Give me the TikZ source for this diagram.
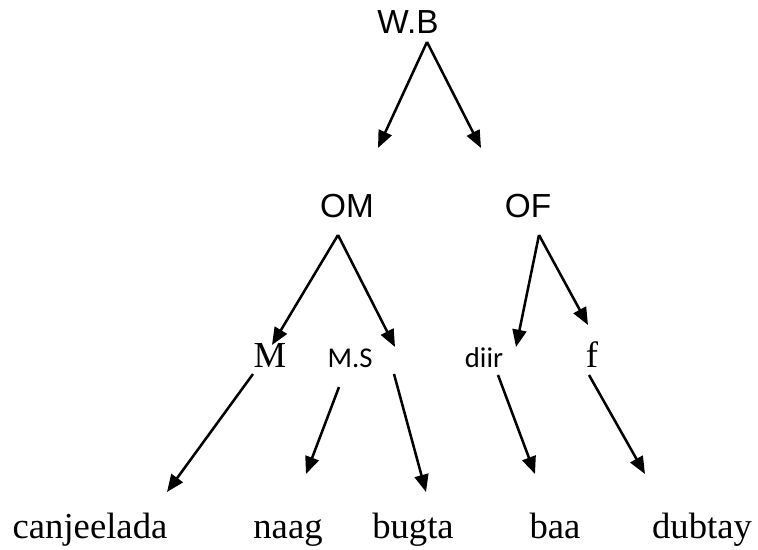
\documentclass[tikz,border=0pt]{standalone}
\usepackage{fontspec}
\usepackage{tikz}
\usetikzlibrary{arrows.meta,calc}
\newfontfamily\labsans{Liberation Sans}
\newfontfamily\labserif{Liberation Serif}
\newfontfamily\labsmall{Carlito}

\tikzset{
    sanslab/.style={inner sep=0pt, anchor=base, font=\labsans\fontsize{25}{29}\selectfont},
    seriflab/.style={inner sep=0pt, anchor=base, font=\labserif\fontsize{27.5}{32}\selectfont},
    smalllab/.style={inner sep=0pt, anchor=base, font=\labsmall\fontsize{21.5}{25}\selectfont},
    arr/.style={line width=1.9pt, -{Triangle[length=13pt,width=10.5pt]}}
}

\begin{document}
\begin{tikzpicture}[x=0.75pt,y=-0.75pt]
            \useasboundingbox (0,0) rectangle (758,550);
            % top
            \node[sanslab] (wb) at (408,33) {W.B};
            % second row
            \node[sanslab] (om) at (347,217) {OM};
            \node[sanslab] (of) at (528,217) {OF};
            % third row
            \node[seriflab] (m) at (270,367) {M};
            \node[smalllab] (ms) at (350,367) {M.S};
            \node[smalllab] (diir) at (484,367) {diir};
            \node[seriflab] (f) at (592,367) {f};
            % leaves
            \node[seriflab] (canjeelada) at (90,538) {canjeelada};
            \node[seriflab] (naag) at (288,538) {naag};
            \node[seriflab] (bugta) at (413,538) {bugta};
            \node[seriflab] (baa) at (555,538) {baa};
            \node[seriflab] (dubtay) at (702,538) {dubtay};

            \draw[arr] ($(wb.base)+(19,9)$) -- ($(om.base)+(31,-69)$);
            \draw[arr] ($(wb.base)+(19,9)$) -- ($(of.base)+(-47,-69)$);
            \draw[arr] ($(om.base)+(-9,18)$) -- ($(m.base)+(2,-22)$);
            \draw[arr] ($(om.base)+(-9,18)$) -- ($(ms.base)+(45,-20)$);
            \draw[arr] ($(of.base)+(11,18)$) -- ($(diir.base)+(32,-20)$);
            \draw[arr] ($(of.base)+(11,18)$) -- ($(f.base)+(-4,-42)$);
            \draw[arr] ($(m.base)+(-17,7)$) -- ($(canjeelada.base)+(77,-46)$);
            \draw[arr] ($(ms.base)+(-11,20)$) -- ($(naag.base)+(18,-64)$);
            \draw[arr] ($(ms.base)+(44,7)$) -- ($(bugta.base)+(13,-46)$);
            \draw[arr] ($(diir.base)+(14,8)$) -- ($(baa.base)+(-20,-64)$);
            \draw[arr] ($(f.base)+(-3,8)$) -- ($(dubtay.base)+(-57,-64)$);
\end{tikzpicture}
\end{document}
